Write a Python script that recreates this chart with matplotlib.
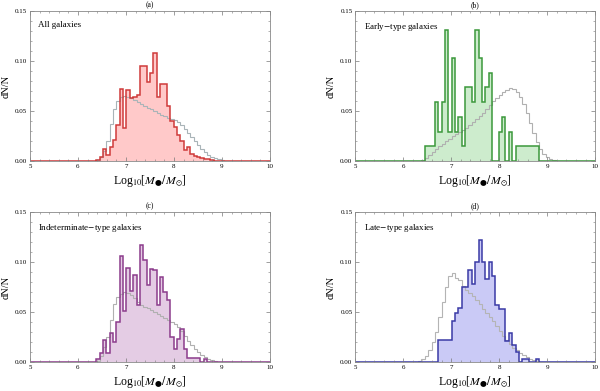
import numpy as np
import matplotlib
matplotlib.use('Agg')
import matplotlib.pyplot as plt
from matplotlib.ticker import MultipleLocator

plt.rcParams['font.family'] = ['Liberation Serif', 'DejaVu Serif']
plt.rcParams['mathtext.fontset'] = 'stix'

# bins of 0.07 dex, left edges start at 6.24
bin_start = 6.24
bin_width = 0.07

all_gal = [0, 0, 0.001, 0.004, 0.012, 0.006, 0.014, 0.021, 0.036, 0.072, 0.033, 0.071, 0.063, 0.064, 0.066,
           0.095, 0.095, 0.079, 0.088, 0.108, 0.064, 0.077, 0.077, 0.055, 0.040, 0.034, 0.026, 0.020, 0.011,
           0.014, 0.007, 0.005, 0.004, 0.003, 0.002, 0.002, 0.001, 0, 0, 0, 0, 0, 0]
all_ref = [0, 0, 0.001, 0.004, 0.010, 0.020, 0.037, 0.052, 0.060, 0.064, 0.065, 0.064, 0.063, 0.061, 0.059,
           0.057, 0.055, 0.053, 0.052, 0.050, 0.048, 0.046, 0.045, 0.043, 0.042, 0.041, 0.039, 0.036, 0.032,
           0.028, 0.024, 0.020, 0.016, 0.012, 0.009, 0.006, 0.004, 0.003, 0.002, 0.001, 0.0005, 0, 0]

early = [0, 0, 0, 0.015, 0.015, 0.015, 0.059, 0.029, 0.059, 0.131, 0.029, 0.103, 0.029, 0.044, 0.015,
         0.074, 0.074, 0.059, 0.131, 0.103, 0.059, 0.074, 0.088, 0, 0, 0.029, 0.044, 0, 0.029,
         0, 0.015, 0.015, 0.015, 0.015, 0.015, 0.015, 0.015, 0, 0, 0, 0, 0, 0]
early_ref = [0, 0, 0.001, 0.003, 0.006, 0.009, 0.012, 0.015, 0.017, 0.020, 0.022, 0.025, 0.027, 0.029, 0.031,
             0.033, 0.036, 0.039, 0.042, 0.045, 0.048, 0.052, 0.056, 0.060, 0.063, 0.066, 0.069, 0.071, 0.073,
             0.072, 0.069, 0.064, 0.057, 0.048, 0.038, 0.028, 0.019, 0.012, 0.007, 0.004, 0.002, 0.001, 0.0005]

indet = [0, 0, 0.003, 0.009, 0.022, 0.009, 0.029, 0.020, 0.040, 0.106, 0.051, 0.094, 0.071, 0.087, 0.057,
         0.117, 0.102, 0.077, 0.093, 0.092, 0.057, 0.085, 0.070, 0.062, 0.025, 0.013, 0.023, 0.033, 0.013,
         0.004, 0.004, 0.004, 0.004, 0, 0.003, 0, 0, 0, 0, 0, 0, 0, 0]
indet_ref = [0, 0, 0.001, 0.006, 0.015, 0.025, 0.042, 0.058, 0.065, 0.068, 0.070, 0.069, 0.067, 0.064, 0.060,
             0.057, 0.055, 0.054, 0.052, 0.050, 0.048, 0.046, 0.044, 0.042, 0.040, 0.038, 0.035, 0.031, 0.026,
             0.021, 0.017, 0.013, 0.010, 0.007, 0.005, 0.003, 0.002, 0.001, 0, 0, 0, 0, 0]

late = [0, 0, 0, 0, 0, 0, 0, 0.022, 0.022, 0.022, 0.022, 0.041, 0.049, 0.054, 0.075,
        0.075, 0.092, 0.078, 0.100, 0.122, 0.100, 0.083, 0.100, 0.086, 0.057, 0.053, 0.053, 0.021, 0.029,
        0.017, 0.010, 0, 0.003, 0.003, 0, 0, 0.003, 0, 0, 0, 0, 0, 0]
late_ref = [0, 0.001, 0.003, 0.006, 0.012, 0.020, 0.030, 0.045, 0.060, 0.075, 0.086, 0.089, 0.084, 0.082, 0.076,
            0.072, 0.069, 0.066, 0.062, 0.058, 0.053, 0.049, 0.045, 0.041, 0.036, 0.031, 0.026, 0.022, 0.018,
            0.014, 0.012, 0.009, 0.007, 0.005, 0.003, 0.002, 0.001, 0, 0, 0, 0, 0, 0]

panels = [
    ('(a)', 'All galaxies', all_gal, all_ref, '#cf3a3a', '#ffc9c9', '#a9b4b8'),
    ('(b)', 'Early$-$type galaxies', early, early_ref, '#3b983b', '#cdeccd', '#b0b0b0'),
    ('(c)', 'Indeterminate$-$type galaxies', indet, indet_ref, '#8c3c8c', '#e4cce4', '#b0b0b0'),
    ('(d)', 'Late$-$type galaxies', late, late_ref, '#3a3aa6', '#cacaf6', '#b4b4b4'),
]

positions = [[0.05, 0.588, 0.40, 0.384], [0.592, 0.588, 0.40, 0.384],
             [0.05, 0.074, 0.40, 0.384], [0.592, 0.074, 0.40, 0.384]]

fig = plt.figure(figsize=(6.0, 3.91), dpi=100)

for (tag, label, vals, ref, edge, fill, grey), pos in zip(panels, positions):
    ax = fig.add_axes(pos)
    nb = len(vals)
    inner = bin_start + bin_width * np.arange(nb + 1)
    edges = np.concatenate([[5.0], inner, [10.0]])
    v = np.concatenate([[0], vals, [0]])
    r = np.concatenate([[0], ref, [0]])

    ax.stairs(v, edges, fill=True, color=fill, lw=0)
    ax.stairs(r, edges, color=grey, lw=0.8)
    ax.stairs(v, edges, color=edge, lw=1.1)

    ax.set_xlim(5, 10)
    ax.set_ylim(0, 0.15)
    ax.xaxis.set_major_locator(MultipleLocator(1))
    ax.xaxis.set_minor_locator(MultipleLocator(0.2))
    ax.yaxis.set_major_locator(MultipleLocator(0.05))
    ax.yaxis.set_minor_locator(MultipleLocator(0.01))
    ax.yaxis.set_major_formatter(plt.FuncFormatter(lambda y, p: '%.2f' % y))
    ax.tick_params(which='both', direction='in', top=True, right=True,
                   color='#777777', labelsize=5, pad=2)
    ax.tick_params(which='major', length=3, width=0.5)
    ax.tick_params(which='minor', length=1.5, width=0.4)
    for s in ax.spines.values():
        s.set_color('#888888')
        s.set_linewidth(0.6)

    ax.set_title(tag, fontsize=5.5, pad=3)
    ax.text(0.035, 0.93, label, transform=ax.transAxes, fontsize=6.5, va='top', ha='left')
    ax.set_ylabel('dN/N', fontsize=7.5, labelpad=3)
    ax.set_xlabel('Log$_{10}$[$M_{\u25cf}/M_{\\odot}$]', fontsize=8.5, labelpad=3)

plt.savefig('out.png', dpi=100)
